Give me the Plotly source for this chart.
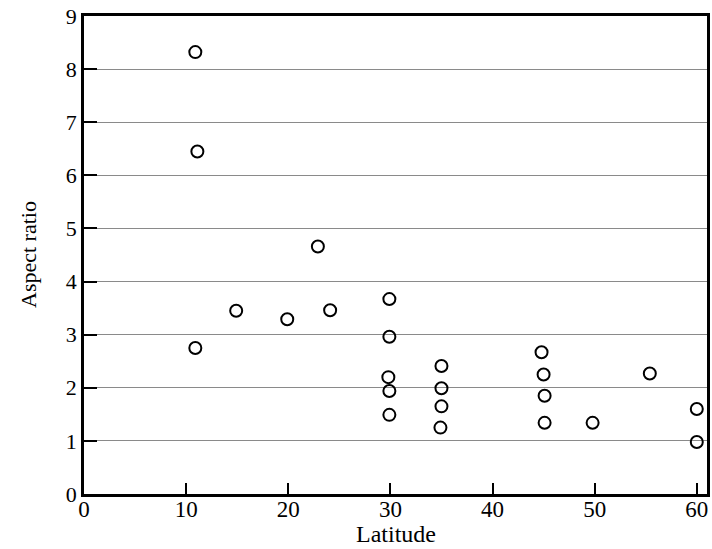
import plotly.graph_objects as go

latitude = [10.9, 11.1, 10.9, 14.9, 19.9, 22.9, 24.1,
            29.9, 29.9, 29.8, 29.9, 29.9,
            35.0, 35.0, 35.0, 34.9,
            44.8, 45.0, 45.1, 45.1, 49.8, 55.4, 60.0, 60.0]
aspect_ratio = [8.32, 6.45, 2.75, 3.45, 3.29, 4.66, 3.46,
                3.67, 2.96, 2.20, 1.94, 1.49,
                2.41, 1.99, 1.65, 1.25,
                2.67, 2.25, 1.85, 1.34, 1.34, 2.27, 1.60, 0.98]
x_ticks = [0, 10, 20, 30, 40, 50, 60]
y_ticks = [0, 1, 2, 3, 4, 5, 6, 7, 8, 9]

font = "Liberation Serif, Times New Roman, serif"

fig = go.Figure()
fig.add_trace(go.Scatter(
    x=latitude, y=aspect_ratio, mode="markers",
    marker=dict(symbol="circle-open", size=12, color="black",
                line=dict(width=2, color="black")),
    showlegend=False,
))

fig.update_layout(
    width=712, height=549,
    margin=dict(l=84, r=5, t=16, b=55),
    paper_bgcolor="white", plot_bgcolor="white",
    font=dict(family=font, size=22, color="black"),
    xaxis=dict(
        range=[0, 61], tickvals=x_ticks, ticks="inside", ticklen=11,
        tickwidth=2, tickcolor="black", showgrid=False, zeroline=False,
        showline=True, linewidth=2.5, linecolor="black", mirror=True,
        tickfont=dict(size=23), automargin=False, ticklabelstandoff=-7,
    ),
    yaxis=dict(
        range=[0, 9], tickvals=y_ticks, ticks="inside", ticklen=13,
        tickwidth=2, tickcolor="black", showgrid=True, gridcolor="#8a8a8a",
        gridwidth=1, zeroline=False,
        showline=True, linewidth=2.5, linecolor="black", mirror=True,
        tickfont=dict(size=22), automargin=False,
    ),
    annotations=[
        dict(text="Latitude", xref="paper", yref="paper", x=0.5, y=0,
             xanchor="center", yanchor="middle", yshift=-40, showarrow=False,
             font=dict(size=24)),
        dict(text="Aspect ratio", xref="paper", yref="paper", x=0, y=0.5,
             xanchor="center", yanchor="middle", xshift=-56, textangle=-90,
             showarrow=False, font=dict(size=22)),
    ],
)

fig.write_html("out.html")
